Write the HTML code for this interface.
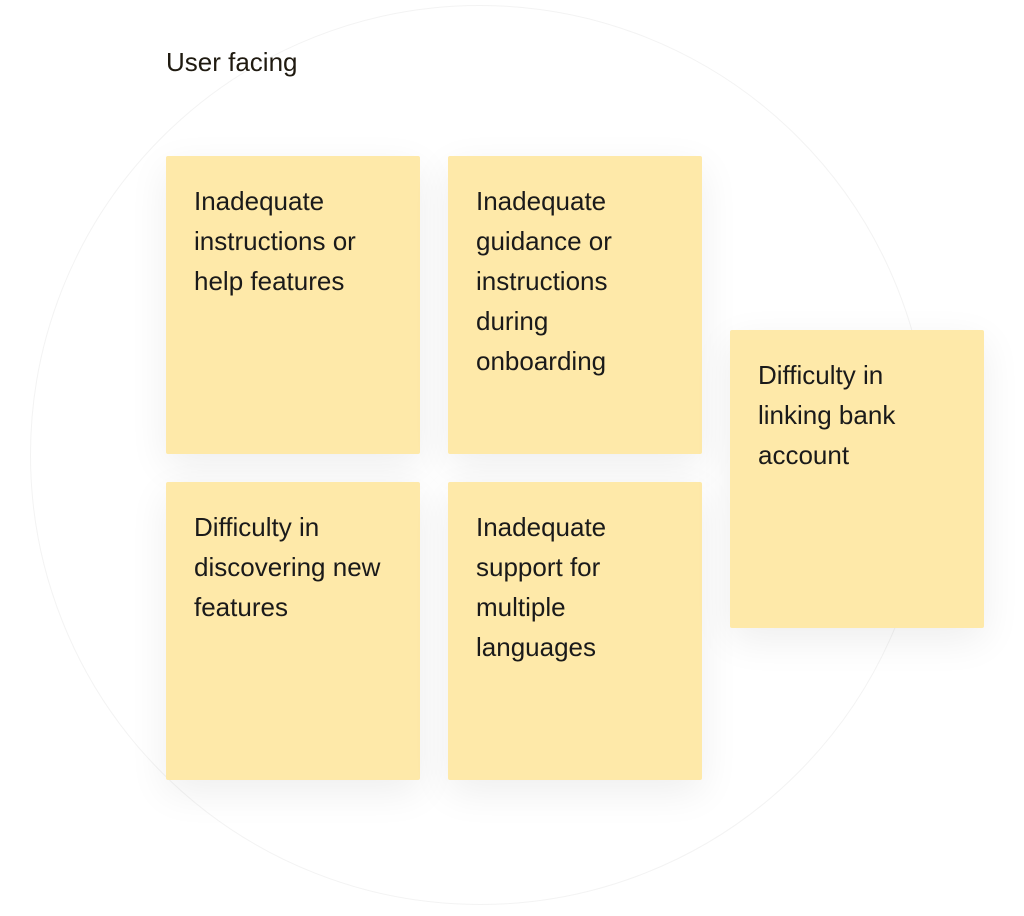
<!DOCTYPE html>
<html><head><style>
body{margin:0;width:1024px;height:916px;background:#fff;position:relative;overflow:hidden;font-family:"Liberation Sans",sans-serif;}
.circle{position:absolute;left:30px;top:5px;width:900px;height:900px;border-radius:50%;border:1px solid #f3f3f3;box-sizing:border-box;}
.t{position:absolute;left:166px;top:45px;font-size:26px;color:#1f1a10;line-height:34px;}
.n{position:absolute;width:254px;height:298px;background:#fee9a9;border-radius:2px;box-shadow:0 12px 40px rgba(0,0,0,0.07);box-sizing:border-box;padding:25px 28px;font-size:26px;line-height:40px;color:#1a1a1a;}
</style></head><body>
<div class="circle"></div>
<div class="t">User facing</div>
<div class="n" style="left:166px;top:156px">Inadequate instructions or help features</div>
<div class="n" style="left:448px;top:156px">Inadequate guidance or instructions during onboarding</div>
<div class="n" style="left:166px;top:482px">Difficulty in discovering new features</div>
<div class="n" style="left:448px;top:482px">Inadequate support for multiple languages</div>
<div class="n" style="left:730px;top:330px">Difficulty in linking bank account</div>
</body></html>
